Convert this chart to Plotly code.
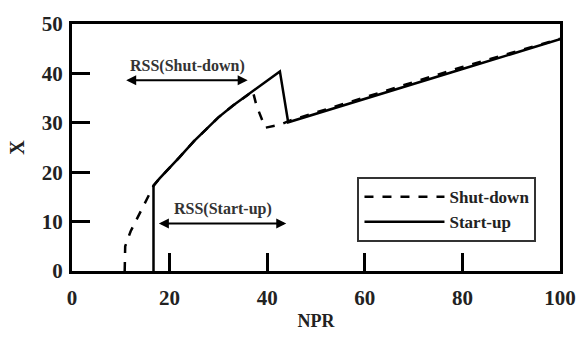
import plotly.graph_objects as go

# Start-up (solid)
start_x = [16.7, 16.7, 18, 20, 22, 25, 28, 30, 33, 36, 39, 42.6, 44.3, 60, 80, 100]
start_y = [0, 17.3, 18.8, 20.8, 23.0, 26.3, 29.3, 31.1, 33.5, 35.6, 37.8, 40.4, 30.1, 34.9, 40.9, 46.9]

# Shut-down (dashed)
shut_x = [10.8, 10.9, 12, 13.5, 15, 16.7, 18, 20, 22, 25, 28, 30, 33, 36, 37, 37.8, 39.6, 42.6, 44.5, 60, 80, 100]
shut_y = [0, 5, 8, 11, 14, 17.2, 18.8, 20.8, 23.0, 26.3, 29.3, 31.1, 33.5, 35.6, 36.6, 33.5, 29.0, 29.6, 30.4, 35.2, 41.3, 47.0]

x_ticks = [0, 20, 40, 60, 80, 100]
y_ticks = [0, 10, 20, 30, 40, 50]

FONT = "Liberation Serif"

fig = go.Figure()
fig.add_trace(go.Scatter(x=shut_x, y=shut_y, mode="lines", name="Shut-down",
                         line=dict(color="black", width=2.5, dash="dash")))
fig.add_trace(go.Scatter(x=start_x, y=start_y, mode="lines", name="Start-up",
                         line=dict(color="black", width=2.5)))

# double arrows
fig.add_annotation(x=36, y=38.6, ax=10.8, ay=38.6, axref="x", ayref="y", xref="x", yref="y",
                   text="", showarrow=True, arrowside="end+start", arrowhead=2,
                   arrowsize=1, arrowwidth=2, arrowcolor="black")
fig.add_annotation(x=23.6, y=41.6, xref="x", yref="y", text="<b>RSS(Shut-down)</b>",
                   showarrow=False, font=dict(family=FONT, size=16, color="#333"))
fig.add_annotation(x=43.9, y=9.6, ax=17.5, ay=9.6, axref="x", ayref="y", xref="x", yref="y",
                   text="", showarrow=True, arrowside="end+start", arrowhead=2,
                   arrowsize=1, arrowwidth=2, arrowcolor="black")
fig.add_annotation(x=31.0, y=12.5, xref="x", yref="y", text="<b>RSS(Start-up)</b>",
                   showarrow=False, font=dict(family=FONT, size=16, color="#333"))

axis_common = dict(showline=True, linewidth=3, linecolor="black", mirror=True,
                   ticks="inside", ticklen=18, tickwidth=3, tickcolor="black",
                   showgrid=False, zeroline=False,
                   tickfont=dict(family=FONT, size=21, color="#222", weight="bold"))

fig.update_layout(
    width=588, height=361,
    margin=dict(l=72, r=24, t=24, b=90),
    plot_bgcolor="white", paper_bgcolor="white",
    xaxis=dict(range=[0, 100], tickvals=x_ticks,
               title=dict(text="<b>NPR</b>", font=dict(family=FONT, size=18, color="#222"), standoff=6),
               ticklabelstandoff=6, **axis_common),
    yaxis=dict(range=[0, 50], tickvals=y_ticks,
               title=dict(text="<b>X</b>", font=dict(family=FONT, size=20, color="#222"), standoff=12),
               ticklabelstandoff=2, **axis_common),
    showlegend=True,
    legend=dict(x=0.585, y=0.38, xanchor="left", yanchor="top",
                bordercolor="#333", borderwidth=2, bgcolor="white",
                font=dict(family=FONT, size=17, color="#222", weight="bold"), itemwidth=80),
)

fig.write_html("out.html")
